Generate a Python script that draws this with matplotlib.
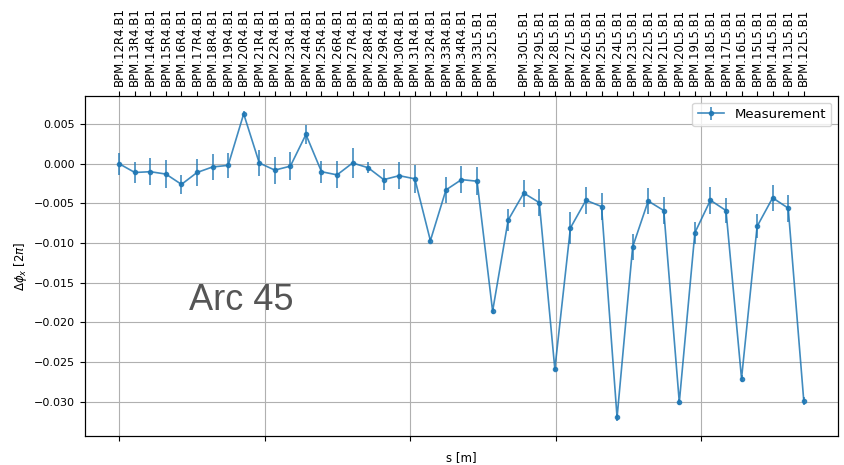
import matplotlib
matplotlib.use("Agg")
import matplotlib.pyplot as plt

# longitudinal position of each BPM in arc 45 (beam 1)
s_pos = [10000.9, 10054.4, 10107.8, 10161.3, 10214.7, 10268.2, 10321.6, 10375.1,
         10428.5, 10482.0, 10535.4, 10588.9, 10642.3, 10695.8, 10749.2, 10802.7,
         10856.1, 10909.6, 10963.0, 11016.5, 11069.9, 11123.4, 11176.8, 11230.3,
         11283.7, 11337.2, 11390.6, 11444.1, 11497.5, 11551.0, 11604.4, 11657.9,
         11711.3, 11764.8, 11818.2, 11871.7, 11925.1, 11978.6, 12032.0, 12085.5,
         12138.9, 12192.4, 12245.8, 12299.3, 12352.7]

# measured phase advance deviation [2pi]
dphi = [0.0000, -0.0011, -0.0010, -0.0013, -0.0026, -0.0011, -0.0004, -0.0002,
        0.0063, 0.0001, -0.0008, -0.0003, 0.0037, -0.0010, -0.0014, 0.0001,
        -0.0005, -0.0020, -0.0015, -0.0019, -0.0097, -0.0033, -0.0020, -0.0022,
        -0.0186, -0.0071, -0.0037, -0.0049, -0.0259, -0.0081, -0.0046, -0.0054,
        -0.0320, -0.0105, -0.0047, -0.0059, -0.0301, -0.0087, -0.0046, -0.0059,
        -0.0271, -0.0079, -0.0043, -0.0056, -0.0299]

dphi_err = [0.0014, 0.0013, 0.0017, 0.0018, 0.0012, 0.0017, 0.0016, 0.0016,
            0.0003, 0.0016, 0.0017, 0.0018, 0.0012, 0.0014, 0.0017, 0.0019,
            0.0007, 0.0013, 0.0017, 0.0018, 0.0003, 0.0016, 0.0017, 0.0018,
            0.0004, 0.0014, 0.0017, 0.0017, 0.0003, 0.0020, 0.0017, 0.0017,
            0.0004, 0.0016, 0.0016, 0.0017, 0.0004, 0.0014, 0.0017, 0.0016,
            0.0004, 0.0015, 0.0016, 0.0017, 0.0005]

# BPM names on the top axis (31L5 has no label)
bpm_names = ["BPM.12R4.B1", "BPM.13R4.B1", "BPM.14R4.B1", "BPM.15R4.B1",
             "BPM.16R4.B1", "BPM.17R4.B1", "BPM.18R4.B1", "BPM.19R4.B1",
             "BPM.20R4.B1", "BPM.21R4.B1", "BPM.22R4.B1", "BPM.23R4.B1",
             "BPM.24R4.B1", "BPM.25R4.B1", "BPM.26R4.B1", "BPM.27R4.B1",
             "BPM.28R4.B1", "BPM.29R4.B1", "BPM.30R4.B1", "BPM.31R4.B1",
             "BPM.32R4.B1", "BPM.33R4.B1", "BPM.34R4.B1", "BPM.33L5.B1",
             "BPM.32L5.B1", "BPM.30L5.B1", "BPM.29L5.B1", "BPM.28L5.B1",
             "BPM.27L5.B1", "BPM.26L5.B1", "BPM.25L5.B1", "BPM.24L5.B1",
             "BPM.23L5.B1", "BPM.22L5.B1", "BPM.21L5.B1", "BPM.20L5.B1",
             "BPM.19L5.B1", "BPM.18L5.B1", "BPM.17L5.B1", "BPM.16L5.B1",
             "BPM.15L5.B1", "BPM.14L5.B1", "BPM.13L5.B1", "BPM.12L5.B1"]
bpm_s = s_pos[:25] + s_pos[26:]

s_ticks = [10000, 10500, 11000, 11500, 12000]

fig = plt.figure(figsize=(8.45, 4.65), dpi=100)
ax = fig.add_subplot(111)
fig.subplots_adjust(left=0.1006, right=0.9917, top=0.7935, bottom=0.0624)

ax.errorbar(s_pos, dphi, yerr=dphi_err, fmt='o-', ms=3, lw=1.2, elinewidth=1.2,
            color='C0', alpha=0.85, label='Measurement')

ax.set_xticks(s_ticks)
ax.set_xticklabels([])
ax.set_xlabel('s [m]', fontsize=8.5)
ax.set_ylabel(r'$\Delta\phi_x$ [$2\pi$]', fontsize=8.5)
ax.tick_params(axis='y', labelsize=8)
ax.grid(True)
ax.legend(loc='upper right', fontsize=9.5)

ax.text(0.138, 0.37, 'Arc 45', transform=ax.transAxes, fontsize=26,
        color='#555555', family='Liberation Sans', ha='left', va='baseline')

ax2 = ax.twiny()
ax2.set_xlim(ax.get_xlim())
ax2.set_xticks(bpm_s)
ax2.set_xticklabels(bpm_names, rotation=90, fontsize=8.5)

fig.savefig('out.png', dpi=100)
